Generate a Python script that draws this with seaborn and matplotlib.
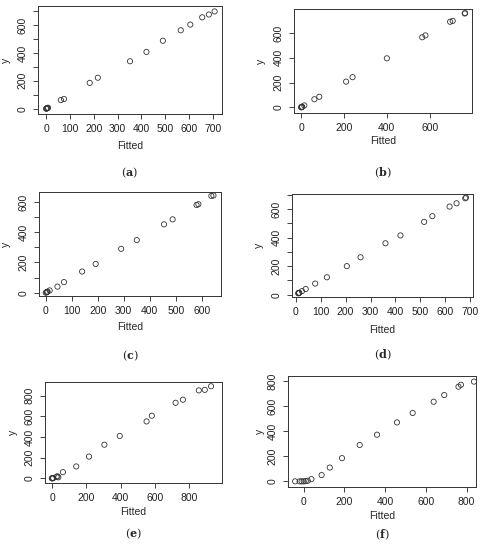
import matplotlib
matplotlib.use('Agg')
import matplotlib.pyplot as plt
import seaborn as sns
import numpy as np
from matplotlib.ticker import MultipleLocator, FuncFormatter

sns.set_style('white')
plt.rcParams['font.family'] = ['Liberation Sans', 'DejaVu Sans']
plt.rcParams['mathtext.fontset'] = 'dejavuserif'

# dados (Fitted, y)
fit_a = [0, 2, 4, 6, 8, 62, 75, 183, 217, 352, 421, 490, 565, 605, 655, 683, 707]
y_a = [0, 1, 3, 5, 7, 62, 70, 185, 222, 340, 407, 487, 562, 603, 655, 675, 697]

fit_b = [0, 2, 4, 5, 15, 62, 85, 210, 240, 400, 565, 580, 695, 707, 763, 765]
y_b = [0, 1, 3, 5, 15, 65, 85, 207, 243, 395, 565, 580, 690, 697, 757, 760]

fit_c = [0, 3, 5, 7, 15, 45, 70, 140, 192, 290, 350, 455, 488, 580, 587, 637, 645]
y_c = [0, 3, 4, 7, 15, 40, 70, 140, 190, 290, 348, 452, 485, 580, 585, 640, 643]

fit_d = [10, 12, 14, 13, 25, 40, 78, 125, 205, 260, 360, 420, 515, 548, 617, 645, 680, 683]
y_d = [10, 12, 14, 11, 25, 40, 78, 122, 200, 262, 360, 415, 510, 550, 617, 640, 675, 680]

fit_e = [-3, 0, 3, 5, 25, 30, 35, 62, 140, 215, 305, 395, 552, 583, 722, 765, 858, 893, 930]
y_e = [0, 0, 2, 3, 15, 20, 10, 60, 115, 210, 325, 410, 550, 605, 730, 760, 850, 855, 890]

fit_f = [-42, -20, -10, 0, 10, 20, 38, 88, 128, 188, 275, 360, 458, 535, 638, 690, 760, 772, 836]
y_f = [0, 0, 0, 0, 2, 5, 18, 50, 110, 185, 290, 372, 470, 545, 635, 688, 755, 770, 795]

# letra, dados, limites, passo dos ticks, caixa em px, posicao da letra, distancias dos rotulos
paineis = [
    ('a', fit_a, y_a, (-34, 738), (-38, 736), 100, 100, [38, 222, 6, 114], 173, 32, 32),
    ('b', fit_b, y_b, (-33, 797), (-46, 793), 200, 200, [294, 472, 9, 113], 173, 28, 33),
    ('c', fit_c, y_c, (-26, 674), (-22, 666), 100, 100, [39, 221, 192, 296], 356, 31, 33),
    ('d', fit_d, y_d, (-15, 711), (-16, 705), 100, 100, [292, 473, 194, 297], 355, 33, 33),
    ('e', fit_e, y_e, (-43, 994), (-45, 931), 200, 200, [45, 222, 382, 483], 534, 29, 32),
    ('f', fit_f, y_f, (-77, 846), (-45, 840), 200, 200, [288, 476, 376, 487], 535, 29, 28),
]

W, H = 483, 550
fig = plt.figure(figsize=(W / 100, H / 100), dpi=100)

for letra, fx, fy, xl, yl, xt, yt, (x0, x1, t0, t1), ly, dx_lab, dy_lab in paineis:
    w, h = x1 - x0, t1 - t0
    ax = fig.add_axes([x0 / W, 1 - t1 / H, w / W, h / H])
    sns.scatterplot(x=fx, y=fy, ax=ax, marker='o', s=14, facecolors='none',
                    edgecolor='#333333', linewidth=0.6)
    ax.set_xlim(xl)
    ax.set_ylim(yl)
    ax.xaxis.set_major_locator(MultipleLocator(xt))
    ax.yaxis.set_major_locator(MultipleLocator(yt))
    ax.yaxis.set_major_formatter(FuncFormatter(
        lambda v, p: f'{int(round(v))}' if round(v) % 200 == 0 else ''))
    ax.tick_params(axis='both', direction='out', length=3.5, width=0.6,
                   labelsize=7.5, colors='#222222', pad=4, bottom=True, left=True)
    for lab in ax.get_yticklabels():
        lab.set_rotation(90)
        lab.set_va('center')
    for sp in ax.spines.values():
        sp.set_color('#333333')
        sp.set_linewidth(0.7)
    ax.set_xlabel('Fitted', fontsize=7.5, va='center')
    ax.set_ylabel('y', fontsize=7.5, va='center')
    ax.xaxis.set_label_coords(0.5, -dx_lab / h)
    ax.yaxis.set_label_coords(-dy_lab / w, 0.5)
    fig.text((x0 + x1) / 2 / W, 1 - ly / H, '($\\mathbf{' + letra + '}$)',
             ha='center', va='center', fontsize=8, family='DejaVu Serif')

fig.savefig('out.png', dpi=100)
